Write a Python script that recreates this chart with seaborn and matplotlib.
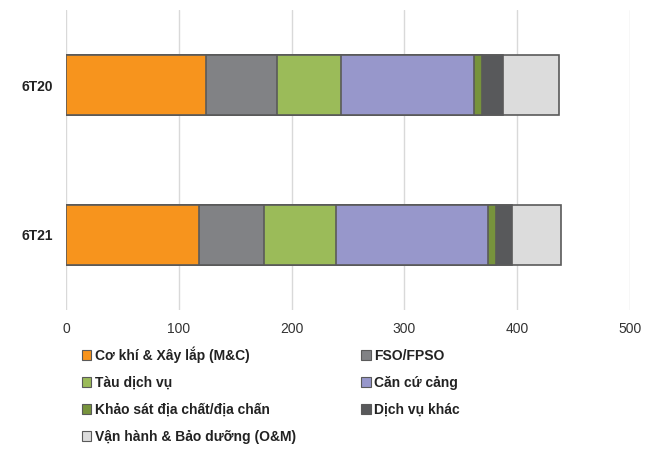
import pandas as pd
import matplotlib.pyplot as plt
import seaborn as sns
from matplotlib.patches import Patch

# Data
periods = ["6T20", "6T21"]
segments = [
    "Cơ khí & Xây lắp (M&C)",
    "FSO/FPSO",
    "Tàu dịch vụ",
    "Căn cứ cảng",
    "Khảo sát địa chất/địa chấn",
    "Dịch vụ khác",
    "Vận hành & Bảo dưỡng (O&M)",
]
values_6t20 = [124.5, 62.5, 56.5, 118.0, 7.5, 18.5, 49.5]
values_6t21 = [117.7, 57.5, 64.3, 134.8, 6.7, 14.8, 42.9]
colors = ["#F7941D", "#818285", "#9BBB59", "#9797CB", "#77933C", "#58595B", "#DCDCDC"]

sns.set_theme(style="white")
plt.rcParams["font.family"] = ["Liberation Sans", "DejaVu Sans"]

df = pd.DataFrame({"period": periods})
for i, seg in enumerate(segments):
    df[seg] = [values_6t20[i], values_6t21[i]]
# cumulative totals so each stacked piece can be drawn from zero
cum = df[segments].cumsum(axis=1)

fig = plt.figure(figsize=(6.58, 4.57), dpi=100)
ax = fig.add_axes([0.1003, 0.322, 0.857, 0.656])

# draw from the largest cumulative to the smallest so pieces stack visually
for seg, col in reversed(list(zip(segments, colors))):
    sns.barplot(x=cum[seg], y=df["period"], orient="h", color=col,
                edgecolor="#5A5A5A", linewidth=1.2, width=0.4,
                saturation=1, ax=ax)

ax.set_xlim(0, 500)
ax.set_ylim(1.5, -0.5)
ax.set_xticks([0, 100, 200, 300, 400, 500])
ax.xaxis.grid(True, color="#D9D9D9", linewidth=1)
ax.set_axisbelow(True)
for s in ax.spines.values():
    s.set_visible(False)
ax.set_xlabel("")
ax.set_ylabel("")
ax.tick_params(axis="x", labelsize=10, colors="#333333", length=0, pad=9)
ax.tick_params(axis="y", labelsize=10, length=0, pad=9)
for lbl in ax.get_yticklabels():
    lbl.set_fontweight("bold")
    lbl.set_color("#222222")

# legend reads row by row in the reference; matplotlib fills columns first
order = [0, 2, 4, 6, 1, 3, 5]
handles = [Patch(facecolor=colors[i], edgecolor="#5A5A5A", linewidth=0.8) for i in order]
labels = [segments[i] for i in order]
leg = fig.legend(handles, labels, ncol=2, loc="upper left",
                 bbox_to_anchor=(0.105, 0.27), frameon=False,
                 prop={"weight": "bold", "size": 10},
                 handlelength=0.7, handleheight=0.7, handletextpad=0.25,
                 columnspacing=4.7, labelspacing=0.95)
for t in leg.get_texts():
    t.set_color("#222222")

fig.savefig("out.png", dpi=100)
